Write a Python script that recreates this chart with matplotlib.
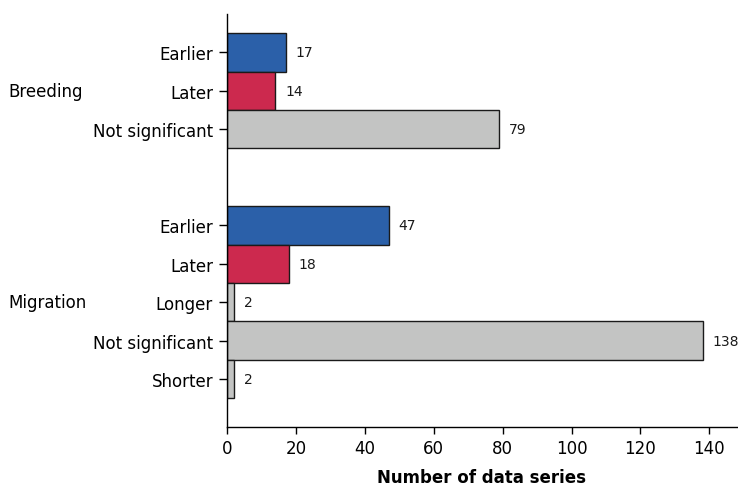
import matplotlib
matplotlib.use("Agg")
import matplotlib.pyplot as plt

# data
breeding_labels = ["Earlier", "Later", "Not significant"]
breeding_values = [17, 14, 79]
migration_labels = ["Earlier", "Later", "Longer", "Not significant", "Shorter"]
migration_values = [47, 18, 2, 138, 2]
group_names = ["Breeding", "Migration"]

blue = "#2b60a9"
red = "#cc294e"
grey = "#c3c4c3"
color_map = {"Earlier": blue, "Later": red}

fig = plt.figure(figsize=(7.38, 4.89), dpi=100)
ax = fig.add_axes([0.3076, 0.1247, 0.6910, 0.8446])

# row positions: breeding rows 0..2, migration rows start at 4.5
pos_b = [0, 1, 2]
pos_m = [4.5 + i for i in range(len(migration_values))]

labels = breeding_labels + migration_labels
values = breeding_values + migration_values
positions = pos_b + pos_m
colors = [color_map.get(l, grey) for l in labels]

ax.barh(positions, values, height=1.0, color=colors,
        edgecolor="#1a1a1a", linewidth=1.0)

for y, v in zip(positions, values):
    ax.annotate(str(v), (v, y), xytext=(7, 0), textcoords="offset points",
                ha="left", va="center", fontsize=10, color="#1a1a1a")

ax.set_yticks(positions)
ax.set_yticklabels(labels, fontsize=12)
ax.set_ylim(9.75, -1)
ax.set_xlim(0, 148)
ax.set_xticks(range(0, 141, 20))
ax.tick_params(axis="x", labelsize=12, length=5, width=1)
ax.tick_params(axis="y", length=6, width=1, pad=4)
ax.set_xlabel("Number of data series", fontsize=12, fontweight="bold", labelpad=8)

for s in ["top", "right"]:
    ax.spines[s].set_visible(False)
ax.spines["left"].set_linewidth(1.0)
ax.spines["bottom"].set_linewidth(1.0)

# group labels at the middle row of each group
fig.text(8 / 738, 1 - 92 / 489, group_names[0], fontsize=12, ha="left", va="center")
fig.text(8 / 738, 1 - 303 / 489, group_names[1], fontsize=12, ha="left", va="center")

fig.savefig("out.png", dpi=100)
